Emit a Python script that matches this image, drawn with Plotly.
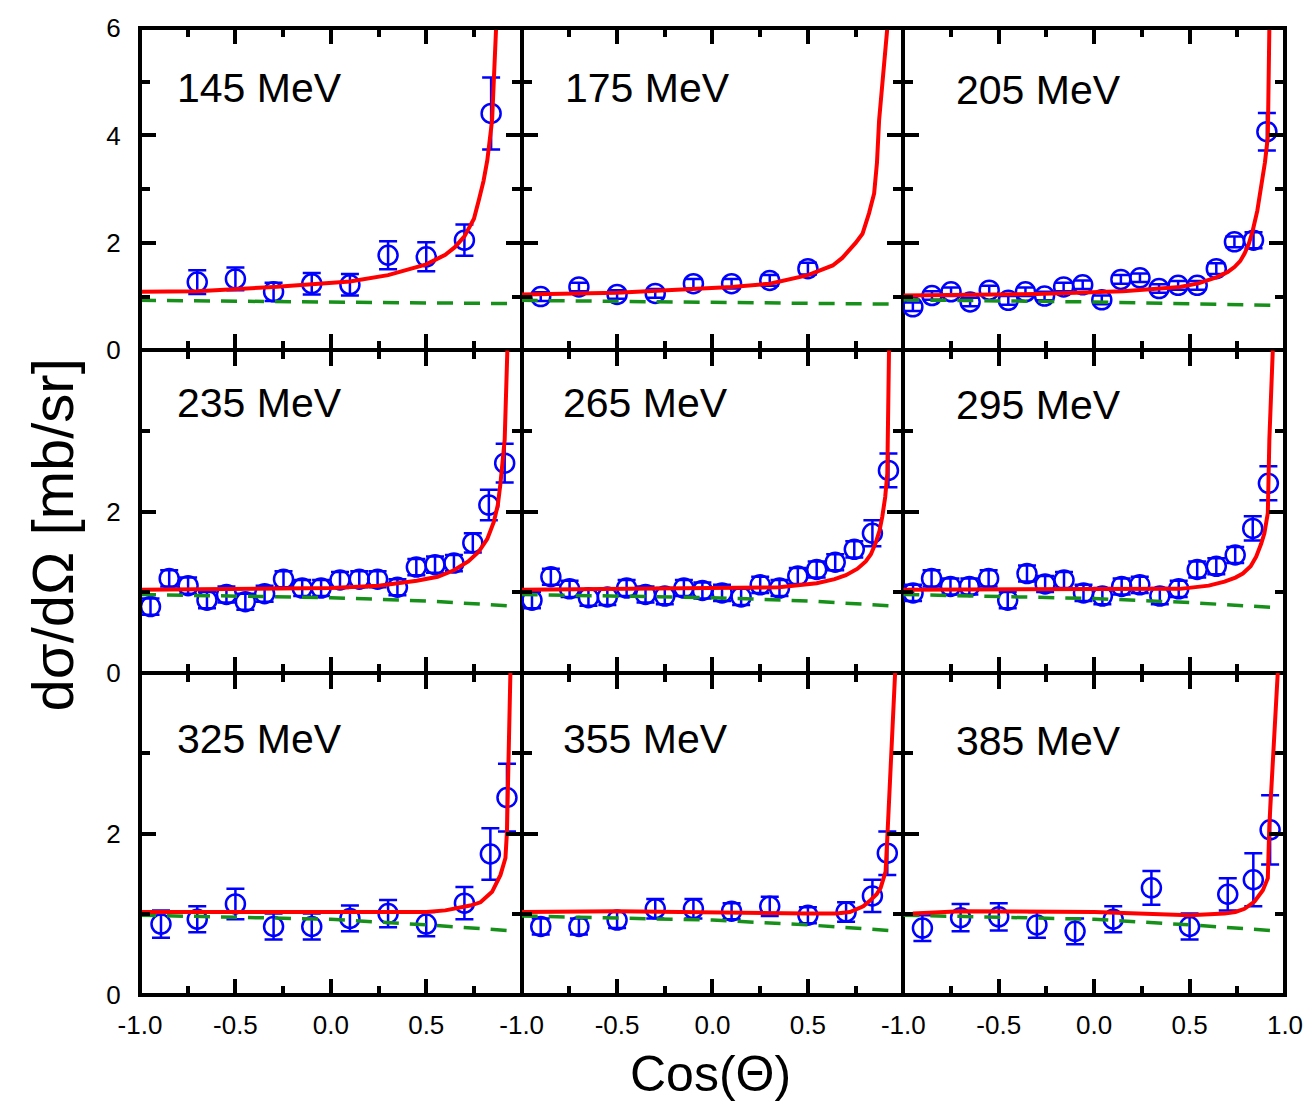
import plotly.graph_objects as go
from plotly.subplots import make_subplots

# ---------------- data ----------------
energies = ["145 MeV", "175 MeV", "205 MeV", "235 MeV", "265 MeV", "295 MeV",
            "325 MeV", "355 MeV", "385 MeV"]

# 145 MeV
x145 = [-0.70, -0.50, -0.30, -0.10, 0.10, 0.30, 0.50, 0.70, 0.84]
y145 = [1.27, 1.33, 1.09, 1.24, 1.22, 1.77, 1.74, 2.05, 4.41]
e145 = [0.22, 0.21, 0.17, 0.20, 0.20, 0.26, 0.27, 0.29, 0.67]
rx145 = [-1.0, -0.7, -0.3, 0.1, 0.3, 0.5, 0.6, 0.65, 0.70, 0.75, 0.775, 0.80, 0.82, 0.845, 0.866]
ry145 = [1.09, 1.10, 1.18, 1.28, 1.40, 1.60, 1.78, 1.92, 2.12, 2.45, 2.79, 3.15, 3.54, 4.28, 6.0]
gx145 = [-1.0, 0.0, 0.93]
gy145 = [0.93, 0.90, 0.87]

# 175 MeV
x175 = [-0.90, -0.70, -0.50, -0.30, -0.10, 0.10, 0.30, 0.50]
y175 = [1.00, 1.18, 1.04, 1.06, 1.24, 1.24, 1.30, 1.52]
e175 = [0.08, 0.08, 0.08, 0.08, 0.09, 0.09, 0.10, 0.11]
rx175 = [-1.0, -0.5, 0.1, 0.3, 0.5, 0.58, 0.63, 0.68, 0.716, 0.75, 0.786, 0.82, 0.847, 0.862, 0.873, 0.895, 0.916]
ry175 = [1.04, 1.07, 1.18, 1.24, 1.40, 1.50, 1.58, 1.72, 1.86, 2.00, 2.17, 2.55, 2.92, 3.50, 4.28, 5.10, 6.0]
gx175 = [-1.0, 0.0, 0.93]
gy175 = [0.93, 0.89, 0.86]

# 205 MeV
x205 = [-0.95, -0.85, -0.75, -0.65, -0.55, -0.45, -0.36, -0.26, -0.16, -0.06,
        0.04, 0.14, 0.24, 0.34, 0.44, 0.54, 0.64, 0.735, 0.835, 0.905]
y205 = [0.81, 1.02, 1.09, 0.90, 1.12, 0.93, 1.09, 1.01, 1.18, 1.22,
        0.94, 1.32, 1.35, 1.15, 1.21, 1.21, 1.52, 2.02, 2.05, 4.07]
e205 = [0.08, 0.08, 0.08, 0.08, 0.08, 0.08, 0.08, 0.08, 0.08, 0.08,
        0.08, 0.08, 0.08, 0.08, 0.08, 0.08, 0.10, 0.10, 0.15, 0.35]
rx205 = [-1.0, -0.3, 0.15, 0.45, 0.55, 0.64, 0.70, 0.735, 0.765, 0.788, 0.81, 0.831, 0.855, 0.875, 0.895, 0.91, 0.918]
ry205 = [1.02, 1.05, 1.10, 1.18, 1.25, 1.36, 1.46, 1.55, 1.66, 1.80, 1.98, 2.23, 2.60, 3.04, 3.50, 3.97, 6.0]
gx205 = [-1.0, 0.0, 0.93]
gy205 = [0.94, 0.90, 0.84]

# 235 MeV
x235 = [-0.945, -0.847, -0.748, -0.649, -0.547, -0.448, -0.347, -0.248, -0.150, -0.051,
        0.048, 0.149, 0.245, 0.349, 0.448, 0.546, 0.645, 0.744, 0.828, 0.911]
y235 = [0.82, 1.17, 1.08, 0.90, 0.97, 0.88, 0.98, 1.16, 1.05, 1.05,
        1.15, 1.16, 1.16, 1.06, 1.31, 1.34, 1.36, 1.61, 2.08, 2.60]
e235 = [0.10, 0.10, 0.10, 0.10, 0.10, 0.10, 0.10, 0.10, 0.10, 0.10,
        0.10, 0.10, 0.10, 0.10, 0.10, 0.10, 0.10, 0.12, 0.19, 0.24]
rx235 = [-1.0, 0.0, 0.25, 0.45, 0.56, 0.645, 0.72, 0.775, 0.82, 0.854, 0.875, 0.889, 0.911, 0.925]
ry235 = [1.03, 1.05, 1.08, 1.14, 1.19, 1.27, 1.38, 1.50, 1.66, 1.87, 2.08, 2.35, 2.89, 4.0]
gx235 = [-1.0, 0.0, 0.5, 0.93]
gy235 = [0.97, 0.93, 0.89, 0.83]

# 265 MeV
x265 = [-0.946, -0.847, -0.749, -0.650, -0.551, -0.450, -0.351, -0.250, -0.150, -0.053,
        0.050, 0.150, 0.250, 0.351, 0.447, 0.546, 0.643, 0.743, 0.838, 0.922]
y265 = [0.90, 1.19, 1.04, 0.93, 0.94, 1.05, 0.97, 0.95, 1.05, 1.02,
        0.99, 0.94, 1.09, 1.05, 1.20, 1.28, 1.37, 1.53, 1.73, 2.51]
e265 = [0.10, 0.10, 0.10, 0.10, 0.10, 0.10, 0.10, 0.10, 0.10, 0.10,
        0.10, 0.10, 0.10, 0.10, 0.10, 0.10, 0.10, 0.10, 0.16, 0.21]
rx265 = [-1.0, 0.35, 0.546, 0.64, 0.699, 0.76, 0.803, 0.83, 0.855, 0.875, 0.890, 0.905, 0.916, 0.925]
ry265 = [1.03, 1.06, 1.11, 1.16, 1.21, 1.29, 1.38, 1.47, 1.61, 1.76, 1.94, 2.18, 2.47, 4.0]
gx265 = [-1.0, 0.0, 0.5, 0.93]
gy265 = [0.97, 0.93, 0.89, 0.83]

# 295 MeV
x295 = [-0.949, -0.852, -0.753, -0.654, -0.553, -0.453, -0.352, -0.257, -0.158, -0.056,
        0.043, 0.144, 0.239, 0.344, 0.443, 0.540, 0.640, 0.739, 0.831, 0.913]
y295 = [0.99, 1.17, 1.07, 1.07, 1.17, 0.90, 1.23, 1.10, 1.15, 0.99,
        0.95, 1.07, 1.09, 0.95, 1.04, 1.28, 1.32, 1.46, 1.79, 2.35]
e295 = [0.10, 0.10, 0.10, 0.10, 0.10, 0.10, 0.10, 0.10, 0.10, 0.10,
        0.10, 0.10, 0.10, 0.10, 0.10, 0.10, 0.10, 0.10, 0.15, 0.21]
rx295 = [-1.0, 0.45, 0.60, 0.683, 0.74, 0.779, 0.82, 0.849, 0.875, 0.892, 0.910, 0.918, 0.936]
ry295 = [1.03, 1.04, 1.08, 1.13, 1.18, 1.23, 1.32, 1.44, 1.60, 1.73, 1.98, 2.89, 4.0]
gx295 = [-1.0, 0.0, 0.5, 0.93]
gy295 = [0.97, 0.92, 0.87, 0.81]

# 325 MeV
x325 = [-0.89, -0.70, -0.50, -0.30, -0.10, 0.10, 0.30, 0.50, 0.70, 0.836, 0.923]
y325 = [0.88, 0.94, 1.13, 0.85, 0.85, 0.95, 1.01, 0.88, 1.14, 1.75, 2.45]
e325 = [0.17, 0.16, 0.19, 0.16, 0.16, 0.16, 0.17, 0.15, 0.20, 0.32, 0.42]
rx325 = [-1.0, 0.0, 0.5, 0.60, 0.671, 0.73, 0.784, 0.845, 0.889, 0.915, 0.923, 0.941]
ry325 = [1.03, 1.03, 1.03, 1.05, 1.08, 1.11, 1.15, 1.28, 1.49, 1.70, 2.03, 4.0]
gx325 = [-1.0, 0.0, 0.5, 0.93]
gy325 = [0.99, 0.94, 0.87, 0.80]

# 355 MeV
x355 = [-0.90, -0.70, -0.50, -0.30, -0.10, 0.10, 0.30, 0.50, 0.70, 0.838, 0.916]
y355 = [0.85, 0.85, 0.93, 1.07, 1.07, 1.04, 1.10, 0.99, 1.03, 1.23, 1.76]
e355 = [0.10, 0.10, 0.10, 0.12, 0.12, 0.10, 0.12, 0.10, 0.12, 0.20, 0.27]
rx355 = [-1.0, -0.5, 0.5, 0.65, 0.72, 0.751, 0.79, 0.829, 0.86, 0.881, 0.907, 0.916, 0.957]
ry355 = [1.03, 1.04, 1.01, 1.01, 1.03, 1.06, 1.10, 1.18, 1.25, 1.33, 1.53, 1.95, 4.0]
gx355 = [-1.0, 0.0, 0.5, 0.93]
gy355 = [0.98, 0.93, 0.87, 0.80]

# 385 MeV
x385 = [-0.90, -0.70, -0.50, -0.30, -0.10, 0.10, 0.30, 0.50, 0.70, 0.834, 0.922]
y385 = [0.83, 0.96, 0.97, 0.87, 0.79, 0.94, 1.33, 0.85, 1.25, 1.43, 2.05]
e385 = [0.16, 0.17, 0.17, 0.16, 0.16, 0.16, 0.21, 0.16, 0.20, 0.33, 0.43]
rx385 = [-0.95, -0.7, 0.0, 0.5, 0.683, 0.74, 0.788, 0.840, 0.884, 0.910, 0.918, 0.962]
ry385 = [1.01, 1.04, 1.03, 0.99, 1.01, 1.03, 1.07, 1.16, 1.30, 1.45, 2.11, 4.0]
gx385 = [-1.0, 0.0, 0.5, 0.93]
gy385 = [0.99, 0.94, 0.87, 0.80]

x_ticks = [-1.0, -0.5, 0.0, 0.5, 1.0]
x_text_inner = ["-1.0", "-0.5", "0.0", "0.5", ""]
x_text_last = ["-1.0", "-0.5", "0.0", "0.5", "1.0"]
x_minor = [-0.75, -0.25, 0.25, 0.75]
y_ticks_top = [0, 2, 4, 6]
y_text_top = ["0", "2", "4", "6"]
y_minor_top = [1, 3, 5]
y_ticks_low = [0, 2, 4]
y_text_low = ["0", "2", ""]
y_minor_low = [1, 3]

panels = [
    (x145, y145, e145, rx145, ry145, gx145, gy145),
    (x175, y175, e175, rx175, ry175, gx175, gy175),
    (x205, y205, e205, rx205, ry205, gx205, gy205),
    (x235, y235, e235, rx235, ry235, gx235, gy235),
    (x265, y265, e265, rx265, ry265, gx265, gy265),
    (x295, y295, e295, rx295, ry295, gx295, gy295),
    (x325, y325, e325, rx325, ry325, gx325, gy325),
    (x355, y355, e355, rx355, ry355, gx355, gy355),
    (x385, y385, e385, rx385, ry385, gx385, gy385),
]

# label anchor positions in pixels (left edge, vertical centre)
label_px = [(175, 88), (565, 88), (958, 90),
            (175, 403), (563, 403), (958, 405),
            (175, 739), (563, 739), (958, 741)]

# ---------------- figure ----------------
W, H = 1315, 1103
ML, MR, MT, MB = 140, 25, 28, 108
PW, PH = W - ML - MR, H - MT - MB

fig = make_subplots(rows=3, cols=3, horizontal_spacing=0, vertical_spacing=0)

FONT = "Liberation Sans, Arial, Helvetica, sans-serif"
BLUE = "#0000ff"
RED = "#ff0000"
GREEN = "#17901a"

for i, (xd, yd, ed, rx, ry, gx, gy) in enumerate(panels):
    r, c = i // 3 + 1, i % 3 + 1
    fig.add_trace(go.Scatter(
        x=xd, y=yd, mode="markers",
        marker=dict(symbol="circle-open", size=19, color=BLUE, line=dict(width=2.5, color=BLUE)),
        error_y=dict(type="data", array=ed, visible=True, color=BLUE, thickness=2.5, width=9),
        showlegend=False), row=r, col=c)
    fig.add_trace(go.Scatter(
        x=gx, y=gy, mode="lines",
        line=dict(color=GREEN, width=3.5, dash="16px,11px"),
        showlegend=False), row=r, col=c)
    fig.add_trace(go.Scatter(
        x=rx, y=ry, mode="lines",
        line=dict(color=RED, width=4),
        showlegend=False), row=r, col=c)

common = dict(
    showline=True, linewidth=2, linecolor="black", mirror="allticks",
    ticks="inside", ticklen=16, tickwidth=4, tickcolor="black",
    showgrid=False, zeroline=False,
    tickfont=dict(family=FONT, size=26, color="black"),
)

for r in range(1, 4):
    for c in range(1, 4):
        fig.update_xaxes(
            range=[-1, 1], tickmode="array", tickvals=x_ticks,
            ticktext=(x_text_last if c == 3 else x_text_inner),
            showticklabels=(r == 3), ticklabelstandoff=6,
            minor=dict(ticks="inside", ticklen=9, tickwidth=4, tickcolor="black",
                       tickvals=x_minor, showgrid=False),
            row=r, col=c, **common)
        if r == 1:
            fig.update_yaxes(
                range=[0, 6], tickmode="array", tickvals=y_ticks_top, ticktext=y_text_top,
                minor=dict(ticks="inside", ticklen=10, tickwidth=4, tickcolor="black",
                           tickvals=y_minor_top, showgrid=False),
                showticklabels=(c == 1), ticklabelstandoff=12,
                row=r, col=c, **common)
        else:
            fig.update_yaxes(
                range=[0, 4], tickmode="array", tickvals=y_ticks_low, ticktext=y_text_low,
                minor=dict(ticks="inside", ticklen=10, tickwidth=4, tickcolor="black",
                           tickvals=y_minor_low, showgrid=False),
                showticklabels=(c == 1), ticklabelstandoff=12,
                row=r, col=c, **common)

annotations = []
for (px, py), name in zip(label_px, energies):
    annotations.append(dict(
        x=(px - ML) / PW, y=(H - MB - py) / PH, xref="paper", yref="paper",
        text=name, showarrow=False, xanchor="left", yanchor="middle",
        font=dict(family=FONT, size=41, color="black")))

annotations.append(dict(
    x=(713 - ML) / PW, y=(H - MB - 1074) / PH, xref="paper", yref="paper",
    text="Cos(Θ)", showarrow=False, xanchor="center", yanchor="middle",
    font=dict(family=FONT, size=50, color="black")))
annotations.append(dict(
    x=(52 - ML) / PW, y=(H - MB - 535) / PH, xref="paper", yref="paper",
    text="dσ/dΩ [mb/sr]", showarrow=False, xanchor="center", yanchor="middle",
    textangle=-90, font=dict(family=FONT, size=58, color="black")))

fig.update_layout(
    width=W, height=H,
    margin=dict(l=ML, r=MR, t=MT, b=MB, pad=0),
    paper_bgcolor="white", plot_bgcolor="white",
    annotations=annotations,
    shapes=[dict(type="rect", xref="paper", yref="paper", x0=0, x1=1, y0=0, y1=1,
                 line=dict(color="black", width=4), fillcolor="rgba(0,0,0,0)", layer="above")],
    showlegend=False,
)

fig.write_html("out.html")
